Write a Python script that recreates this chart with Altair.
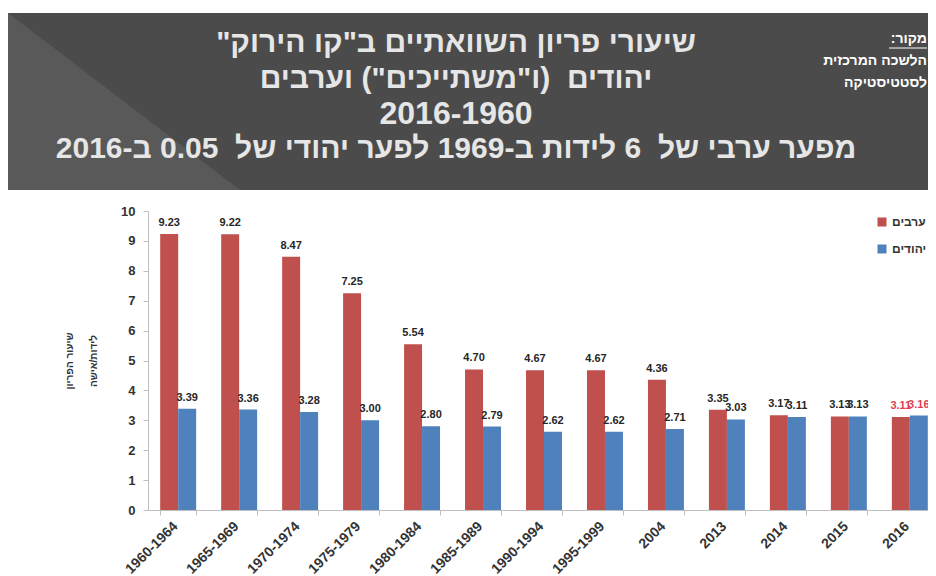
import altair as alt
import pandas as pd

categories = ["1960-1964", "1965-1969", "1970-1974", "1975-1979", "1980-1984",
              "1985-1989", "1990-1994", "1995-1999", "2004", "2013", "2014",
              "2015", "2016"]
groups = ["ערבים", "יהודים"]
arabs = [9.23, 9.22, 8.47, 7.25, 5.54, 4.70, 4.67, 4.67, 4.36, 3.35, 3.17, 3.13, 3.11]
jews = [3.39, 3.36, 3.28, 3.00, 2.80, 2.79, 2.62, 2.62, 2.71, 3.03, 3.11, 3.13, 3.16]
y_ticks = [0, 1, 2, 3, 4, 5, 6, 7, 8, 9, 10]

title_lines = [
    'שיעורי פריון השוואתיים ב"קו הירוק"',
    'יהודים \u00a0(ו"משתייכים") וערבים',
    "2016-1960",
    "מפער ערבי של \u00a06 לידות ב-1969 לפער יהודי של \u00a00.05 ב-2016",
]
source_lines = ["מקור:", "הלשכה המרכזית", "לסטטיסטיקה"]
y_title = ["שיעור הפריון", "לידות/אישה"]

rows = []
for c, a, j in zip(categories, arabs, jews):
    rows.append({"category": c, "group": groups[0], "value": a})
    rows.append({"category": c, "group": groups[1], "value": j})
df = pd.DataFrame(rows)

RLM = "\u200f"
FONT = "Liberation Sans"
W, H = 780, 299
one = alt.Data(values=[{}])

banner = alt.Chart(one).mark_rect(color="#4b4b4b").encode(
    x=alt.value(-140), x2=alt.value(800), y=alt.value(-198), y2=alt.value(-21)
)
tri = alt.Chart(one).mark_point(
    shape="M-1,-1L-1,0.526L1,0.526Z", filled=True, opacity=1,
    color="#595959", strokeWidth=0, size=53824
).encode(x=alt.value(-24), y=alt.value(-82))
border = alt.Chart(one).mark_rule(color="#9a9a9a", strokeWidth=1).encode(
    x=alt.value(-140.5), y=alt.value(-198), y2=alt.value(370)
)

layers = [banner, tri, border]

title_y = [-168, -132, -97, -62]
title_size = [30, 30, 32, 30]
for t, yy, fs in zip(title_lines, title_y, title_size):
    layers.append(
        alt.Chart(one).mark_text(
            text=RLM + t + RLM, font=FONT, fontWeight="bold", fontSize=fs,
            color="#e6e6e6", align="center", baseline="middle"
        ).encode(x=alt.value(308), y=alt.value(yy))
    )

src_y = [-172, -150, -128]
for t, yy in zip(source_lines, src_y):
    layers.append(
        alt.Chart(one).mark_text(
            text=RLM + t + RLM, font=FONT, fontWeight="bold", fontSize=14,
            color="#ffffff", align="right", baseline="middle"
        ).encode(x=alt.value(779), y=alt.value(yy))
    )
layers.append(
    alt.Chart(one).mark_rule(color="#ffffff", strokeWidth=1).encode(
        x=alt.value(741), x2=alt.value(779), y=alt.value(-163)
    )
)

xscale = alt.Scale(paddingInner=0.41, paddingOuter=0.2, range=[0, 792])
yscale = alt.Scale(domain=[0, 10], nice=False)

xenc = alt.X(
    "category:N", sort=categories, title=None, scale=xscale,
    axis=alt.Axis(labelAngle=-45, labelFontSize=14, labelFontWeight="bold",
                  labelColor="#333333", labelFont=FONT, domainColor="#bfbfbf",
                  tickColor="#bfbfbf", tickSize=5, tickBand="extent",
                  labelPadding=4, labelOffset=-8, grid=False),
)
yenc = alt.Y(
    "value:Q", title=y_title, scale=yscale,
    axis=alt.Axis(values=y_ticks, labelOverlap=False,
                  labelFontSize=13, labelFontWeight="bold",
                  labelColor="#333333", labelFont=FONT,
                  domainColor="#bfbfbf", tickColor="#bfbfbf", tickSize=5,
                  labelPadding=8, grid=False, titleFontSize=10,
                  titleFontWeight="bold", titleColor="#333333", titleFont=FONT,
                  titlePadding=22, titleLineHeight=24),
)

bars = alt.Chart(df).mark_bar().encode(
    x=xenc,
    xOffset=alt.XOffset("group:N", sort=groups),
    y=yenc,
    color=alt.Color(
        "group:N",
        scale=alt.Scale(domain=groups, range=["#C0504D", "#4F81BD"]),
        legend=alt.Legend(title=None, orient="none", legendX=728, legendY=5,
                          symbolType="square", symbolSize=81,
                          labelFontSize=12, labelFontWeight="bold",
                          labelColor="#333333", labelFont=FONT, rowPadding=15),
    ),
)

labels = alt.Chart(df).mark_text(
    baseline="bottom", dy=-6, fontSize=11, fontWeight="bold", font=FONT
).encode(
    x=alt.X("category:N", sort=categories, scale=xscale, axis=None),
    xOffset=alt.XOffset("group:N", sort=groups),
    y=alt.Y("value:Q", scale=yscale, axis=None),
    text=alt.Text("value:Q", format=".2f"),
    color=alt.condition(alt.datum.category == "2016",
                        alt.value("#e0404f"), alt.value("#262626")),
)

layers += [bars, labels]

chart = alt.layer(*layers).resolve_axis(
    x="independent", y="independent"
).properties(
    width=W, height=H,
    autosize=alt.AutoSizeParams(type="none"),
    padding={"left": 140, "top": 203, "right": 0, "bottom": 66},
    background="#ffffff",
).configure_view(strokeWidth=0)

chart.save("out.html", embed_options={"renderer": "svg", "actions": False})
